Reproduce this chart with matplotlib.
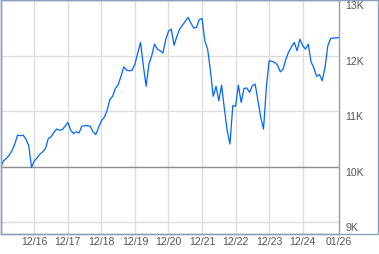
import matplotlib
matplotlib.use("Agg")
import matplotlib.pyplot as plt
from matplotlib.patches import Rectangle

# growth of 10K, month-end values (in thousands), Dec 2015 .. Jan 2026
values = [
    10.00, 10.11, 10.15, 10.21, 10.29, 10.41, 10.57, 10.56, 10.57, 10.50,
    10.38, 9.99, 10.11, 10.16, 10.23, 10.27, 10.33, 10.51, 10.54, 10.62,
    10.68, 10.66, 10.67, 10.73, 10.80, 10.66, 10.60, 10.63, 10.61, 10.73,
    10.74, 10.74, 10.73, 10.63, 10.58, 10.71, 10.83, 10.89, 11.01, 11.21,
    11.27, 11.41, 11.48, 11.63, 11.80, 11.74, 11.73, 11.74, 11.85, 12.05,
    12.24, 11.82, 11.45, 11.85, 12.00, 12.21, 12.12, 12.09, 12.05, 12.29,
    12.44, 12.48, 12.19, 12.35, 12.48, 12.55, 12.62, 12.69, 12.59, 12.50,
    12.51, 12.65, 12.67, 12.27, 12.12, 11.73, 11.27, 11.45, 11.19, 11.47,
    11.04, 10.65, 10.41, 11.10, 11.09, 11.47, 11.16, 11.41, 11.42, 11.34,
    11.46, 11.49, 11.19, 10.89, 10.68, 11.43, 11.91, 11.90, 11.88, 11.83,
    11.71, 11.76, 11.94, 12.07, 12.16, 12.24, 12.09, 12.30, 12.18, 12.12,
    12.21, 11.89, 11.78, 11.63, 11.66, 11.55, 11.79, 12.18, 12.31, 12.32,
    12.32, 12.33,
]
months = list(range(len(values)))

x_ticks = [12, 24, 36, 48, 60, 72, 84, 96, 108, 121]
x_labels = ["12/16", "12/17", "12/18", "12/19", "12/20", "12/21", "12/22", "12/23", "12/24", "01/26"]
y_ticks = [9, 10, 11, 12, 13]
y_labels = ["9K", "10K", "11K", "12K", "13K"]

plt.rcParams["font.family"] = ["Liberation Sans", "DejaVu Sans"]

W, H = 379, 255
frame = "#8a9fbd"
fig = plt.figure(figsize=(W / 100, H / 100), dpi=100)
ax = fig.add_axes([0.5 / W, 20 / H, 338.5 / W, 234.5 / H])

for y in y_ticks:
    if y == 10:
        ax.axhline(y, color="#8c8c8c", lw=1.0, zorder=2)
    else:
        ax.axhline(y, color="#dcdcdc", lw=1.0, zorder=1)
for x in x_ticks[:-1]:
    ax.axvline(x, color="#dcdcdc", lw=1.0, zorder=1)

ax.plot(months, values, color="#0066ff", lw=0.9, zorder=3)

ax.set_xlim(-0.1, 120.9)
ax.set_ylim(8.79, 13.013)
ax.set_xticks(x_ticks)
ax.set_xticklabels(x_labels)
ax.set_yticks(y_ticks)
ax.set_yticklabels(y_labels)
ax.yaxis.tick_right()
ax.tick_params(length=0, labelsize=7.6, labelcolor="#555555")
ax.tick_params(axis="x", pad=1.8)
ax.tick_params(axis="y", pad=4.6)
for lab in ax.get_yticklabels():
    lab.set_va("top")
for s in ax.spines.values():
    s.set_color(frame)
    s.set_linewidth(1.0)

# outer box round plot and label panel
fig.patches.append(Rectangle((0.5 / W, 20 / H), 377.5 / W, 234.5 / H,
                             transform=fig.transFigure, fill=False,
                             edgecolor=frame, lw=1.0))

fig.savefig("out.png", dpi=100)
